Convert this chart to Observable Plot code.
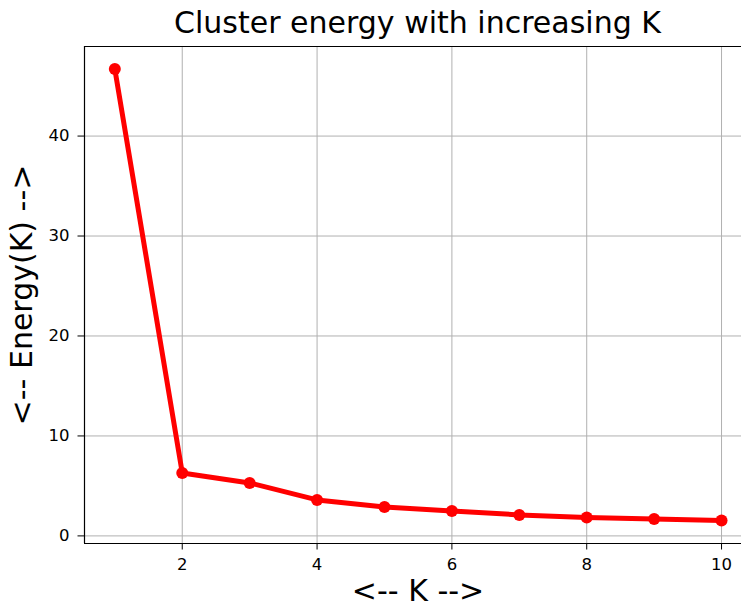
<!DOCTYPE html>
<html>
<head>
<meta charset="utf-8">
<script src="https://cdn.jsdelivr.net/npm/d3@7"></script>
<script src="https://cdn.jsdelivr.net/npm/@observablehq/plot@0.6"></script>
<style>
  html, body { margin: 0; padding: 0; background: #fff; overflow: hidden; }
  #title { position: relative; width: 741px; height: 44px; font: 30px "DejaVu Sans", sans-serif; color: #000; }
  #title span { position: absolute; left: 84px; width: 667px; top: 8px; line-height: 30px; text-align: center; white-space: nowrap; }
</style>
</head>
<body>
<div id="title"><span>Cluster energy with increasing K</span></div>
<div id="chart"></div>
<script>
// Elbow curve: total cluster energy for each number of clusters K
const ks = [1, 2, 3, 4, 5, 6, 7, 8, 9, 10];
const energy = [46.7, 6.3, 5.3, 3.6, 2.9, 2.5, 2.1, 1.85, 1.7, 1.55];
const xTicks = [2, 4, 6, 8, 10];
const yTicks = [0, 10, 20, 30, 40];
const xLabel = "<-- K -->";
const yLabel = "<-- Energy(K) -->";

const data = ks.map((k, i) => ({k, e: energy[i]}));
const xDomain = [0.55, 10.296];
const yDomain = [-0.76, 48.96];

const chart = Plot.plot({
  width: 741,
  height: 561,
  marginTop: 2,
  marginBottom: 62,
  marginLeft: 84,
  marginRight: 0,
  style: {fontFamily: "DejaVu Sans, sans-serif", fontSize: "16.5px", color: "#000", background: "#fff"},
  x: {domain: xDomain},
  y: {domain: yDomain},
  marks: [
    Plot.gridX(xTicks, {stroke: "#b0b0b0", strokeOpacity: 1, strokeWidth: 1}),
    Plot.gridY(yTicks, {stroke: "#b0b0b0", strokeOpacity: 1, strokeWidth: 1}),
    Plot.ruleX([xDomain[0]], {stroke: "#000", strokeWidth: 1.2}),
    Plot.ruleY([yDomain[0]], {stroke: "#000", strokeWidth: 1.2}),
    Plot.ruleY([yDomain[1]], {stroke: "#000", strokeWidth: 1.2}),
    Plot.axisX(xTicks, {tickSize: 6.5, tickPadding: 8.5, label: null, fontSize: 16.5, stroke: "#000"}),
    Plot.axisY(yTicks, {tickSize: 6.5, tickPadding: 8.5, label: null, fontSize: 16.5, stroke: "#000"}),
    Plot.line(data, {x: "k", y: "e", stroke: "red", strokeWidth: 5}),
    Plot.dot(data, {x: "k", y: "e", r: 6, fill: "red", stroke: "none"}),
    Plot.text([xLabel], {frameAnchor: "bottom", dx: 5, dy: 57, textAnchor: "middle", fontSize: 30, fill: "#000", text: d => d}),
    Plot.text([yLabel], {frameAnchor: "left", dx: -62, dy: 0, rotate: -90, textAnchor: "middle", fontSize: 30, fill: "#000", text: d => d})
  ]
});
document.getElementById("chart").append(chart);
</script>
</body>
</html>
